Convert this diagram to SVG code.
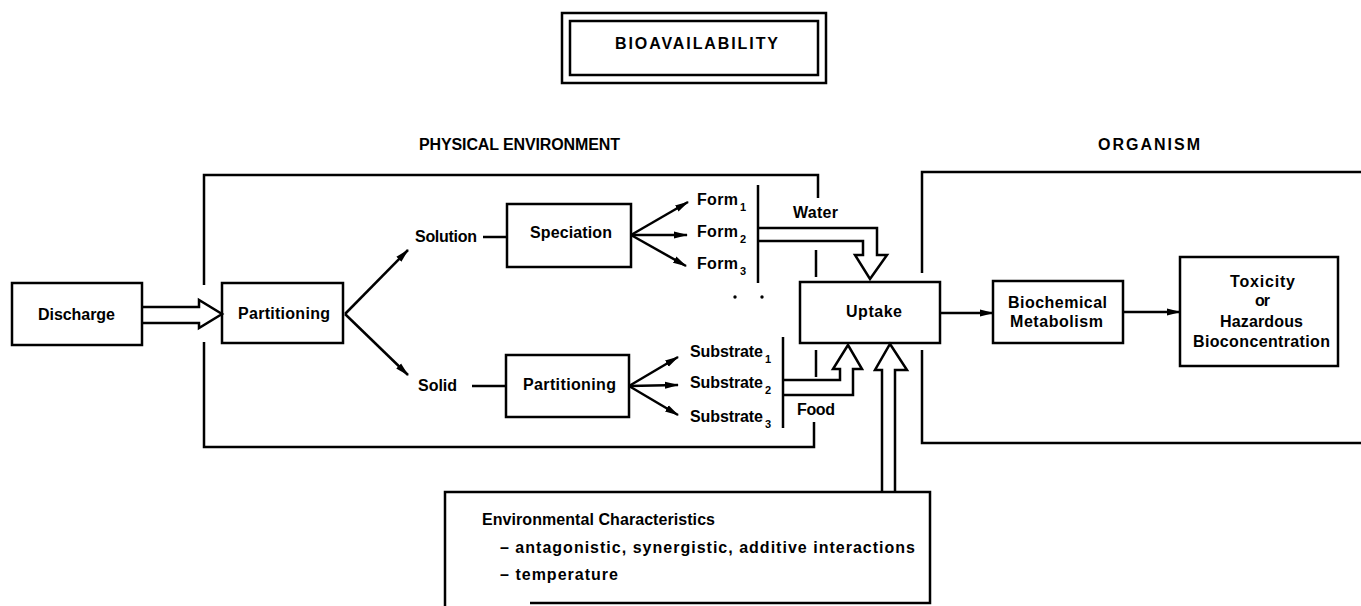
<svg xmlns="http://www.w3.org/2000/svg" width="1361" height="606" viewBox="0 0 1361 606">
<style>
.bx{fill:none;stroke:#000;stroke-width:2.5}
.ln{fill:none;stroke:#000;stroke-width:2.5;stroke-linejoin:miter}
.t{font-family:"Liberation Sans",Arial,sans-serif;font-weight:bold;font-size:16px;fill:#000}
.h{font-size:16px}
.s{font-size:11px}
</style>
<defs>
<marker id="ah" markerUnits="userSpaceOnUse" markerWidth="14" markerHeight="8" refX="13" refY="4" orient="auto">
<path d="M0,0.5 L14,4 L0,7.5 z" fill="#000"/>
</marker>
</defs>
<rect width="1361" height="606" fill="#fff"/>

<g id="title">
<rect x="562" y="13" width="264" height="70" class="bx" stroke-width="3"/>
<rect x="570" y="21" width="248" height="54" class="bx" stroke-width="1.5"/>
<text class="t" x="615" y="49" textLength="163" font-size="17">BIOAVAILABILITY</text>
</g>

<g id="physical-environment">
<text class="t h" x="419" y="150" textLength="201">PHYSICAL ENVIRONMENT</text>
<path class="bx" d="M204,285 V175 H818 V198"/>
<path class="bx" d="M204,342 V447 H814 V422"/>
<path class="bx" d="M816,250 V277 M816,350 V377"/>
</g>

<g id="organism">
<text class="t h" x="1098" y="150" textLength="102">ORGANISM</text>
<path class="bx" d="M1361,172 H922 V273"/>
<path class="bx" d="M922,350 V443 H1361"/>
</g>

<g id="discharge">
<rect x="12" y="283" width="130" height="62" class="bx"/>
<text class="t" x="38" y="320" textLength="77">Discharge</text>
</g>

<g id="partitioning1">
<rect x="222" y="283" width="121" height="60" class="bx"/>
<text class="t" x="238" y="319" textLength="92">Partitioning</text>
</g>

<g id="solution">
<text class="t" x="415" y="242" textLength="62">Solution</text>
</g>

<g id="speciation">
<rect x="507" y="204" width="124" height="63" class="bx"/>
<text class="t" x="530" y="238" textLength="82">Speciation</text>
</g>

<g id="forms">
<text class="t" x="697" y="205" textLength="41">Form</text><text class="t s" x="740" y="211">1</text>
<text class="t" x="697" y="237" textLength="41">Form</text><text class="t s" x="740" y="243">2</text>
<text class="t" x="697" y="269" textLength="41">Form</text><text class="t s" x="740" y="275">3</text>
<path class="bx" d="M758,185 V283"/>
<circle cx="735" cy="297" r="1.7" fill="#000"/>
<circle cx="762" cy="297" r="1.7" fill="#000"/>
<text class="t" x="793" y="218" textLength="45">Water</text>
</g>

<g id="solid">
<text class="t" x="418" y="391" textLength="39">Solid</text>
</g>

<g id="partitioning2">
<rect x="506" y="355" width="123" height="62" class="bx"/>
<text class="t" x="523" y="390" textLength="93">Partitioning</text>
</g>

<g id="substrates">
<text class="t" x="690" y="357" textLength="73">Substrate</text><text class="t s" x="765" y="363">1</text>
<text class="t" x="690" y="388" textLength="73">Substrate</text><text class="t s" x="765" y="394">2</text>
<text class="t" x="690" y="422" textLength="73">Substrate</text><text class="t s" x="765" y="428">3</text>
<path class="bx" d="M783,337 V428"/>
<text class="t" x="797" y="415" textLength="38">Food</text>
</g>

<g id="uptake">
<rect x="800" y="282" width="140" height="61" class="bx"/>
<text class="t" x="846" y="317" textLength="56">Uptake</text>
</g>

<g id="biochemical">
<rect x="993" y="281" width="130" height="62" class="bx"/>
<text class="t" x="1008" y="308" textLength="99">Biochemical</text>
<text class="t" x="1010" y="327" textLength="93">Metabolism</text>
</g>

<g id="toxicity">
<rect x="1180" y="257" width="158" height="109" class="bx"/>
<text class="t" x="1230" y="287" textLength="65">Toxicity</text>
<text class="t" x="1255" y="306" textLength="15">or</text>
<text class="t" x="1220" y="327" textLength="83">Hazardous</text>
<text class="t" x="1193" y="347" textLength="137">Bioconcentration</text>
</g>

<g id="environmental-characteristics">
<path class="bx" d="M445,606 V492 H930 V603 H530"/>
<text class="t" x="482" y="525" textLength="233">Environmental Characteristics</text>
<text class="t" x="500" y="553" textLength="415">– antagonistic, synergistic, additive interactions</text>
<text class="t" x="500" y="580" textLength="118">– temperature</text>
</g>

<g id="connectors">
<path class="ln" d="M142,307 H199 V300 L222,314 L199,328 V323 H142"/>
<line class="ln" x1="345" y1="314" x2="408" y2="250" marker-end="url(#ah)"/>
<line class="ln" x1="345" y1="314" x2="408" y2="375" marker-end="url(#ah)"/>
<line class="ln" x1="483" y1="237" x2="507" y2="237"/>
<line class="ln" x1="472" y1="386" x2="506" y2="386"/>
<line class="ln" x1="631" y1="235" x2="688" y2="202" marker-end="url(#ah)"/>
<line class="ln" x1="631" y1="235" x2="687" y2="235" marker-end="url(#ah)"/>
<line class="ln" x1="631" y1="235" x2="686" y2="266" marker-end="url(#ah)"/>
<line class="ln" x1="629" y1="386" x2="678" y2="357" marker-end="url(#ah)"/>
<line class="ln" x1="629" y1="386" x2="678" y2="385" marker-end="url(#ah)"/>
<line class="ln" x1="629" y1="386" x2="678" y2="415" marker-end="url(#ah)"/>
<path class="ln" d="M758,228 H877 V255 H887 L870,279 L855,255 H863 V241 H758"/>
<path class="ln" d="M783,380 H840 V369 H833 L848,345 L862,369 H853 V395 H783"/>
<path class="ln" d="M882,492 V370 H875 L890,344 L907,370 H895 V492"/>
<line class="ln" x1="940" y1="313" x2="993" y2="313" marker-end="url(#ah)"/>
<line class="ln" x1="1123" y1="312" x2="1180" y2="312" marker-end="url(#ah)"/>
</g>
</svg>
